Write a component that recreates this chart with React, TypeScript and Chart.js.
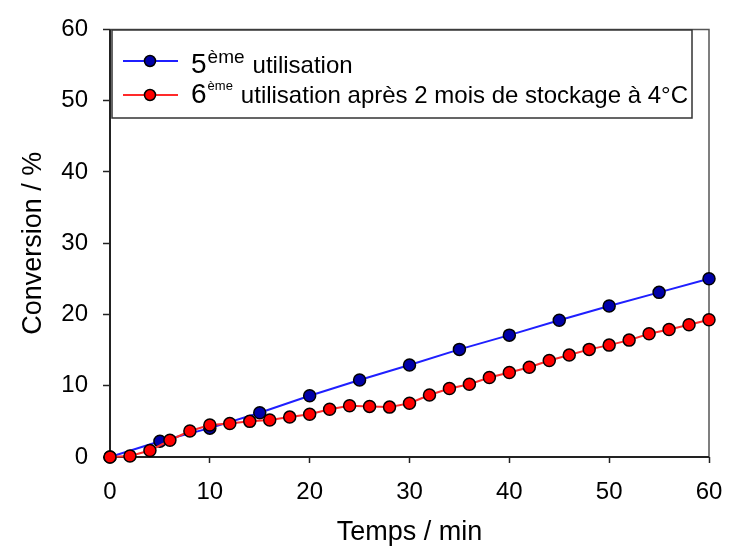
import React, { useEffect, useRef } from "react";
import { Chart, registerables } from "chart.js";

Chart.register(...registerables);

// ---- data ----
const timeBlue = [0, 5, 10, 15, 20, 25, 30, 35, 40, 45, 50, 55, 60];
const convBlue = [0, 2.2, 4.05, 6.2, 8.6, 10.8, 12.9, 15.1, 17.1, 19.2, 21.2, 23.1, 25.0];

const timeRed = [0, 2, 4, 6, 8, 10, 12, 14, 16, 18, 20, 22, 24, 26, 28, 30, 32, 34, 36, 38, 40, 42, 44, 46, 48, 50, 52, 54, 56, 58, 60];
const convRed = [0, 0.15, 0.9, 2.35, 3.65, 4.5, 4.7, 5.0, 5.2, 5.6, 6.0, 6.7, 7.2, 7.1, 7.0, 7.55, 8.7, 9.6, 10.2, 11.15, 11.85, 12.6, 13.55, 14.3, 15.1, 15.7, 16.4, 17.3, 17.9, 18.55, 19.25];

const legendNumbers = ["5", "6"];
const legendSup = ["ème", "ème"];
const legendRest = ["utilisation", "utilisation après 2 mois de stockage à 4°C"];

const xTitle = "Temps / min";
const yTitle = "Conversion / %";
const axisMin = 0;
const axisMax = 60;
const axisStep = 10;

const FONT = "'Liberation Sans', Arial, sans-serif";

const blueLine = "#1f1fff";
const blueFill = "#0000a8";
const redLine = "#ff2a2a";
const redFill = "#ff0000";

const framePlugin = {
  id: "frame",
  beforeDatasetsDraw(chart: any) {
    const { ctx, chartArea } = chart;
    const { left, right, top, bottom } = chartArea;
    ctx.save();
    ctx.strokeStyle = "#555";
    ctx.lineWidth = 1.5;
    ctx.beginPath();
    ctx.moveTo(left, top);
    ctx.lineTo(right, top);
    ctx.lineTo(right, bottom);
    ctx.stroke();
    ctx.strokeStyle = "#222";
    ctx.lineWidth = 2;
    ctx.beginPath();
    ctx.moveTo(left, top);
    ctx.lineTo(left, bottom);
    ctx.lineTo(right, bottom);
    ctx.stroke();
    ctx.restore();
  },
};

const legendPlugin = {
  id: "customLegend",
  afterDraw(chart: any) {
    const { ctx } = chart;
    const boxX = 112, boxY = 30, boxW = 580, boxH = 88;
    ctx.save();
    ctx.fillStyle = "#fff";
    ctx.fillRect(boxX, boxY, boxW, boxH);
    ctx.strokeStyle = "#333";
    ctx.lineWidth = 1.5;
    ctx.strokeRect(boxX, boxY, boxW, boxH);

    const rowsY = [61, 95];
    const baselines = [73, 103];
    const supFont = [19, 13];
    const supRaise = [10, 13];
    const colors = [
      [blueLine, blueFill],
      [redLine, redFill],
    ];
    for (let i = 0; i < 2; i++) {
      const y = rowsY[i];
      ctx.strokeStyle = colors[i][0];
      ctx.lineWidth = 2;
      ctx.beginPath();
      ctx.moveTo(123, y);
      ctx.lineTo(178, y);
      ctx.stroke();
      ctx.fillStyle = colors[i][1];
      ctx.strokeStyle = "#000";
      ctx.lineWidth = 1.5;
      ctx.beginPath();
      ctx.arc(150, y, 5.5, 0, Math.PI * 2);
      ctx.fill();
      ctx.stroke();

      ctx.fillStyle = "#000";
      ctx.textBaseline = "alphabetic";
      ctx.textAlign = "left";
      let x = 191;
      ctx.font = `28px ${FONT}`;
      ctx.fillText(legendNumbers[i], x, baselines[i]);
      x += ctx.measureText(legendNumbers[i]).width + 1;
      ctx.font = `${supFont[i]}px ${FONT}`;
      ctx.fillText(legendSup[i], x, baselines[i] - supRaise[i]);
      x += ctx.measureText(legendSup[i]).width + 8;
      ctx.font = `24px ${FONT}`;
      ctx.fillText(legendRest[i], x, baselines[i]);
    }
    ctx.restore();
  },
};

export default function App() {
  const canvasRef = useRef<HTMLCanvasElement | null>(null);

  useEffect(() => {
    document.body.style.margin = "0";
    const canvas = canvasRef.current;
    if (!canvas) return;
    const chart = new Chart(canvas, {
      type: "line",
      data: {
        datasets: [
          {
            label: legendNumbers[0] + legendSup[0] + " " + legendRest[0],
            data: timeBlue.map((t, i) => ({ x: t, y: convBlue[i] })),
            borderColor: blueLine,
            backgroundColor: blueFill,
            borderWidth: 2,
            pointRadius: 6,
            pointBorderWidth: 1.5,
            pointBorderColor: "#000",
            pointBackgroundColor: blueFill,
            tension: 0,
            clip: false as any,
            order: 1,
          },
          {
            label: legendNumbers[1] + legendSup[1] + " " + legendRest[1],
            data: timeRed.map((t, i) => ({ x: t, y: convRed[i] })),
            borderColor: redLine,
            backgroundColor: redFill,
            borderWidth: 2,
            pointRadius: 6,
            pointBorderWidth: 1.5,
            pointBorderColor: "#000",
            pointBackgroundColor: redFill,
            tension: 0,
            clip: false as any,
            order: 0,
          },
        ],
      },
      options: {
        responsive: false,
        animation: false,
        layout: { padding: { left: 0, top: 25, right: 44, bottom: 0 } },
        plugins: {
          legend: { display: false },
          tooltip: { enabled: false },
        },
        scales: {
          x: {
            type: "linear",
            min: axisMin,
            max: axisMax,
            ticks: {
              stepSize: axisStep,
              font: { size: 24, family: FONT },
              color: "#000",
              padding: 15,
            },
            grid: {
              drawOnChartArea: false,
              drawTicks: true,
              tickLength: 6,
              tickColor: "#222",
              tickWidth: 1.5,
            },
            border: { display: false },
            title: {
              display: true,
              text: xTitle,
              font: { size: 27, family: FONT },
              color: "#000",
              padding: { top: 0, bottom: 1 },
            },
            afterFit: (s: any) => {
              s.height = 93;
            },
          },
          y: {
            type: "linear",
            min: axisMin,
            max: axisMax,
            ticks: {
              stepSize: axisStep,
              font: { size: 24, family: FONT },
              color: "#000",
              padding: 15,
            },
            grid: {
              drawOnChartArea: false,
              drawTicks: true,
              tickLength: 7,
              tickColor: "#222",
              tickWidth: 1.5,
            },
            border: { display: false },
            title: {
              display: true,
              text: yTitle,
              font: { size: 27, family: FONT },
              color: "#000",
              padding: { top: 17, bottom: 0 },
            },
            afterFit: (s: any) => {
              s.width = 110;
            },
          },
        },
      },
      plugins: [framePlugin, legendPlugin],
    });
    return () => chart.destroy();
  }, []);

  return (
    <canvas
      ref={canvasRef}
      width={753}
      height={550}
      style={{ display: "block", width: 753, height: 550 }}
    />
  );
}
